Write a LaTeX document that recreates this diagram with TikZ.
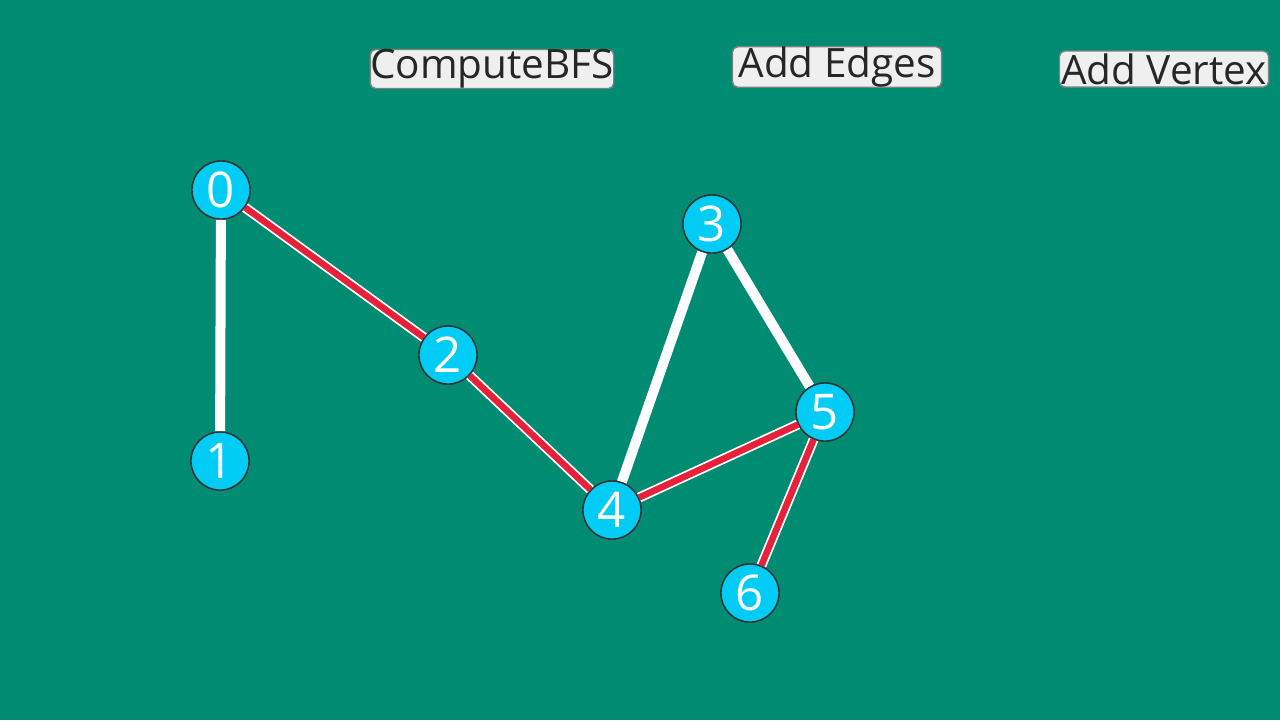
\documentclass[tikz,border=0pt]{standalone}
\usepackage{fontspec}
\setmainfont{Open Sans}
\definecolor{bg}{HTML}{008C72}
\definecolor{vert}{HTML}{00CCF5}
\definecolor{path}{HTML}{E8213A}
\definecolor{btn}{HTML}{EFEFEF}
\begin{document}
\begin{tikzpicture}[x=0.01cm,y=-0.01cm,
vertex/.style={
% The shape:
circle,
fill=vert,
draw=black!80,
thin,
minimum size=0.58cm,
inner sep=0pt,
text=white,
font=\fontsize{14pt}{14pt}\selectfont
},
button/.style={
rectangle,rounded corners=1.5pt,
fill=btn,draw=black!50,thin,
minimum width=2.09cm,minimum height=0.36cm,
inner sep=0pt,text=black!85,
font=\fontsize{11.5pt}{12pt}\selectfont
},
plain/.style={white,line width=0.1cm},
bfs/.style={white,line width=0.1cm,postaction={draw=path,line width=0.065cm}}
]
\fill[bg] (0,0) rectangle (1280,720);
\node (bfs) [button] at (492,69) {ComputeBFS};
\node (edges) [button] at (837,67) {Add Edges};
\node (vertex) [button] at (1164,69) {Add Vertex};
% vertices
\node (v0) [vertex] at (221,190) {0};
\node (v1) [vertex] at (220,461) {1};
\node (v2) [vertex] at (448,355) {2};
\node (v3) [vertex] at (712,224) {3};
\node (v4) [vertex] at (612,510) {4};
\node (v5) [vertex] at (825,412) {5};
\node (v6) [vertex] at (750,593) {6};
\begin{scope}[on background layer/.style={}]
\end{scope}
\path (v0) edge[plain] (v1) (v3) edge[plain] (v4) (v3) edge[plain] (v5)
 (v0) edge[bfs] (v2) (v2) edge[bfs] (v4) (v4) edge[bfs] (v5) (v5) edge[bfs] (v6);
% redraw vertices on top
\foreach \n/\x/\y in {0/221/190,1/220/461,2/448/355,3/712/224,4/612/510,5/825/412,6/750/593}
 \node[vertex] at (\x,\y) {\n};
\end{tikzpicture}
\end{document}
